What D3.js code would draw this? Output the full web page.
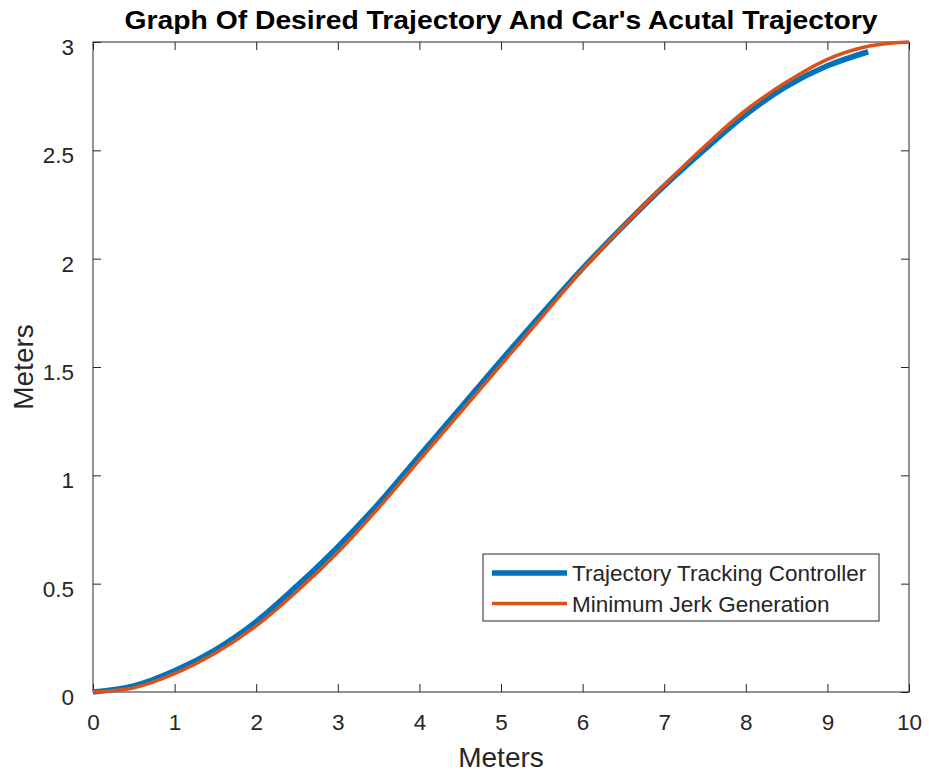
<!DOCTYPE html>
<html>
<head>
<meta charset="utf-8">
<script src="https://cdn.jsdelivr.net/npm/d3@7"></script>
<style>
  body { margin: 0; background: #fff; }
  svg text { font-family: "Liberation Sans", Arial, sans-serif; fill: #262626; }
</style>
</head>
<body>
<div id="chart"></div>
<script>
// values
var xDesired = [0, 0.5, 1, 1.5, 2, 2.5, 3, 3.5, 4, 4.5, 5, 5.5, 6, 6.5, 7, 7.5, 8, 8.5, 9, 9.5, 10];
var yDesired = [0, 0.02, 0.085, 0.18, 0.305, 0.465, 0.645, 0.85, 1.07, 1.29, 1.51, 1.73, 1.95, 2.15, 2.34, 2.52, 2.685, 2.815, 2.92, 2.98, 3.0];
var xActual = [0, 0.5, 1, 1.5, 2, 2.5, 3, 3.5, 4, 4.5, 5, 5.5, 6, 6.5, 7, 7.5, 8, 8.5, 9, 9.5];
var yActual = [0, 0.028, 0.098, 0.195, 0.325, 0.49, 0.67, 0.87, 1.09, 1.31, 1.53, 1.745, 1.955, 2.15, 2.335, 2.505, 2.665, 2.795, 2.89, 2.955];
var xTicks = [0, 1, 2, 3, 4, 5, 6, 7, 8, 9, 10];
var yTicks = [0, 0.5, 1, 1.5, 2, 2.5, 3];
var seriesNames = ["Trajectory Tracking Controller", "Minimum Jerk Generation"];
var seriesColors = ["#0072BD", "#D95319"];

var chart = {
    width: 929,
    height: 776,
    left: 93,
    right: 909,
    top: 42,
    bottom: 692,
    tick: 8
};

var svg = d3.select("#chart").append("svg")
    .attr("width", chart.width)
    .attr("height", chart.height);

var x = d3.scaleLinear().domain([0, 10]).range([chart.left, chart.right]);
var y = d3.scaleLinear().domain([0, 3]).range([chart.bottom, chart.top]);

// box + ticks on all four sides, pointing inward
var axisCol = "#262626";
function styleAxis(g) {
    g.select(".domain").remove();
    g.selectAll(".tick line").attr("stroke", axisCol);
    g.selectAll(".tick text").attr("font-size", 22.5).attr("fill", axisCol);
}

svg.append("g")
    .attr("transform", "translate(0," + chart.bottom + ")")
    .call(d3.axisBottom(x).tickValues(xTicks).tickFormat(d3.format("d")).tickSizeInner(-chart.tick).tickPadding(22))
    .call(styleAxis);
svg.append("g")
    .attr("transform", "translate(0," + chart.top + ")")
    .call(d3.axisTop(x).tickValues(xTicks).tickFormat("").tickSizeInner(-chart.tick))
    .call(styleAxis);
var yAxisG = svg.append("g")
    .attr("transform", "translate(" + chart.left + ",0)")
    .call(d3.axisLeft(y).tickValues(yTicks).tickFormat(function (d) { return d; }).tickSizeInner(-chart.tick).tickPadding(19))
    .call(styleAxis);
yAxisG.selectAll(".tick text").attr("dy", "0.55em");
svg.append("g")
    .attr("transform", "translate(" + chart.right + ",0)")
    .call(d3.axisRight(y).tickValues(yTicks).tickFormat("").tickSizeInner(-chart.tick))
    .call(styleAxis);

svg.append("rect")
    .attr("x", chart.left).attr("y", chart.top)
    .attr("width", chart.right - chart.left).attr("height", chart.bottom - chart.top)
    .attr("fill", "none").attr("stroke", axisCol).attr("stroke-width", 1);

// lines
var line = d3.line()
    .x(function (d) { return x(d[0]); })
    .y(function (d) { return y(d[1]); })
    .curve(d3.curveCatmullRom.alpha(0.5));

svg.append("path")
    .datum(d3.zip(xActual, yActual))
    .attr("d", line)
    .attr("fill", "none")
    .attr("stroke", seriesColors[0])
    .attr("stroke-width", 5.5);

svg.append("path")
    .datum(d3.zip(xDesired, yDesired))
    .attr("d", line)
    .attr("fill", "none")
    .attr("stroke", seriesColors[1])
    .attr("stroke-width", 3.5);

// title and labels
svg.append("text")
    .attr("x", (chart.left + chart.right) / 2).attr("y", 29)
    .attr("text-anchor", "middle")
    .attr("font-size", 25).attr("font-weight", "bold")
    .attr("textLength", 753).attr("lengthAdjust", "spacingAndGlyphs")
    .style("fill", "#000")
    .text("Graph Of Desired Trajectory And Car's Acutal Trajectory");

svg.append("text")
    .attr("x", (chart.left + chart.right) / 2).attr("y", 767)
    .attr("text-anchor", "middle")
    .attr("font-size", 28)
    .text("Meters");

svg.append("text")
    .attr("transform", "translate(33," + (chart.top + chart.bottom) / 2 + ") rotate(-90)")
    .attr("text-anchor", "middle")
    .attr("font-size", 28)
    .text("Meters");

// legend
var leg = svg.append("g").attr("transform", "translate(483,554)");
leg.append("rect")
    .attr("width", 396).attr("height", 67)
    .attr("fill", "#fff").attr("stroke", axisCol).attr("stroke-width", 1);
var legItems = leg.selectAll("g.item")
    .data(seriesNames)
    .enter().append("g")
    .attr("class", "item")
    .attr("transform", function (d, i) { return "translate(0," + (19 + i * 30.5) + ")"; });
legItems.append("line")
    .attr("x1", 9).attr("x2", 84)
    .attr("stroke", function (d, i) { return seriesColors[i]; })
    .attr("stroke-width", function (d, i) { return i == 0 ? 5.5 : 3.5; });
legItems.append("text")
    .attr("x", 89).attr("y", 8)
    .attr("font-size", 22.5)
    .text(function (d) { return d; });
</script>
</body>
</html>
